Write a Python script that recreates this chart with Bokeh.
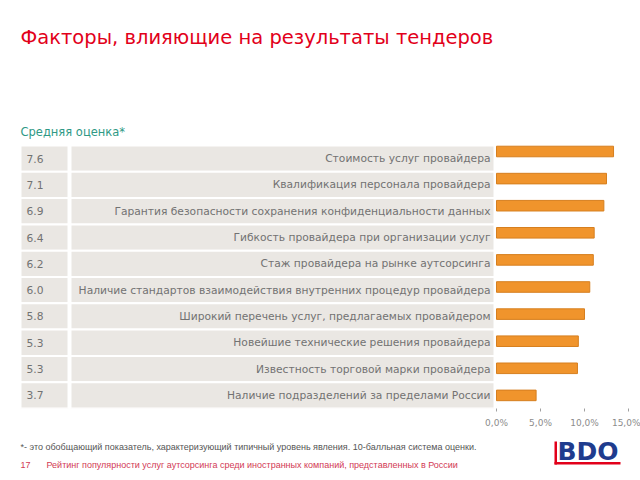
from bokeh.plotting import figure
from bokeh.layouts import column
from bokeh.models import Range1d, LinearAxis, FixedTicker, ColumnDataSource
from bokeh.core.properties import value
from bokeh.embed import file_html
from bokeh.resources import INLINE

# ---------------- data ----------------
scores = ["7.6", "7.1", "6.9", "6.4", "6.2", "6.0", "5.8", "5.3", "5.3", "3.7"]
factors = [
    "Стоимость услуг провайдера",
    "Квалификация персонала провайдера",
    "Гарантия безопасности сохранения конфиденциальности данных",
    "Гибкость провайдера при организации услуг",
    "Стаж провайдера на рынке аутсорсинга",
    "Наличие стандартов взаимодействия внутренних процедур провайдера",
    "Широкий перечень услуг, предлагаемых провайдером",
    "Новейшие технические решения провайдера",
    "Известность торговой марки провайдера",
    "Наличие подразделений за пределами России",
]
shares = [13.3, 12.5, 12.2, 11.1, 11.0, 10.6, 10.0, 9.3, 9.2, 4.5]
ticks = [0, 5, 10, 15]
tick_labels = ["0,0%", "5,0%", "10,0%", "15,0%"]

title_text = "Факторы, влияющие на результаты тендеров"
subtitle_text = "Средняя оценка*"
note_text = ("*- это обобщающий показатель, характеризующий типичный уровень явления. "
             "10-балльная система оценки.")
page_no = "17"
footer_text = ("Рейтинг популярности услуг аутсорсинга среди иностранных компаний, "
               "представленных в России")

# ---------------- layout constants (pixels) ----------------
W = 640
H_TOP = 432          # upper figure height
FRAME_H = 408        # upper frame height (axis goes below)
H_BOT = 48           # lower figure height
N = len(factors)

TABLE_TOP = 145.0
ROW_H = 26.3
COL1 = (20, 68)
COL2 = (70, 494)

PX_PER_PCT = 8.8
ZERO_X = 496.0
BAR_FIRST = 151.0    # page y of first bar centre
BAR_STEP = 27.1
BAR_H = 0.39

FONT = "DejaVu Sans"
GRAY_BG = "#EAE7E3"
TXT = "#727272"

# ---------------- upper figure ----------------
p = figure(width=W, height=H_TOP, output_backend="svg", toolbar_location=None,
           x_range=Range1d(0, W), y_range=Range1d(FRAME_H, 0),
           min_border_left=0, min_border_right=0, min_border_top=0,
           min_border_bottom=H_TOP - FRAME_H,
           x_axis_location=None, y_axis_location=None,
           outline_line_color=None, background_fill_color="white",
           border_fill_color="white")
p.grid.visible = False

p.extra_x_ranges = {"pct": Range1d(-ZERO_X / PX_PER_PCT, (W - ZERO_X) / PX_PER_PCT)}
p.extra_y_ranges = {"bars": Range1d(-(FRAME_H - (BAR_FIRST + BAR_STEP * (N - 1))) / BAR_STEP,
                                    (N - 1) + BAR_FIRST / BAR_STEP)}

# title & subtitle
p.text(x=[20], y=[36.5], text=[title_text], text_font=value(FONT),
       text_font_size="19.5px", text_color="#E2001A", text_baseline="middle")
p.text(x=[20], y=[131], text=[subtitle_text], text_font=value(FONT),
       text_font_size="11.5px", text_color="#2F9985", text_baseline="middle")

# table
rows = list(range(N))
tsrc = ColumnDataSource(dict(
    top=[TABLE_TOP + ROW_H * i for i in rows],
    bottom=[TABLE_TOP + ROW_H * (i + 1) for i in rows],
    ymid=[TABLE_TOP + ROW_H * (i + 0.5) for i in rows],
    score=scores,
    factor=factors,
))
p.quad(left=COL1[0], right=COL1[1], top="top", bottom="bottom", source=tsrc,
       fill_color=GRAY_BG, line_color="white", line_width=2)
p.quad(left=COL2[0], right=COL2[1], top="top", bottom="bottom", source=tsrc,
       fill_color=GRAY_BG, line_color="white", line_width=2)
p.text(x=COL1[0] + 6, y="ymid", text="score", source=tsrc,
       text_font=value(FONT), text_font_size="10.7px", text_color=TXT,
       text_align="left", text_baseline="middle")
p.text(x=COL2[1] - 4, y="ymid", text="factor", source=tsrc,
       text_font=value(FONT), text_font_size="10.7px", text_color=TXT,
       text_align="right", text_baseline="middle")

# bars
bsrc = ColumnDataSource(dict(y=[N - 1 - i for i in rows], share=shares))
p.hbar(y="y", left=0, right="share", height=BAR_H, source=bsrc,
       x_range_name="pct", y_range_name="bars",
       fill_color="#F0942C", line_color="#D67F1F", line_width=1)

axis = LinearAxis(x_range_name="pct", ticker=FixedTicker(ticks=ticks),
                  major_label_overrides={t: l for t, l in zip(ticks, tick_labels)},
                  axis_line_color=None, major_tick_line_color="#A0A0A0",
                  major_tick_in=0, major_tick_out=3, minor_tick_line_color=None,
                  major_label_text_font=FONT, major_label_text_font_size="9px",
                  major_label_text_color="#8C8C8C", major_label_standoff=6)
p.add_layout(axis, "below")

# ---------------- lower figure (footnotes + logo) ----------------
q = figure(width=W, height=H_BOT, output_backend="svg", toolbar_location=None,
           x_range=Range1d(0, W), y_range=Range1d(H_TOP + H_BOT, H_TOP),
           min_border_left=0, min_border_right=0, min_border_top=0,
           min_border_bottom=0, x_axis_location=None, y_axis_location=None,
           outline_line_color=None, background_fill_color="white",
           border_fill_color="white")
q.grid.visible = False

q.text(x=[20], y=[446], text=[note_text], text_font=value("Liberation Sans"),
       text_font_size="9px", text_color="#555555", text_baseline="middle")
q.text(x=[20, 46], y=[464, 464], text=[page_no, footer_text],
       text_font=value("Liberation Sans"), text_font_size="9px",
       text_color="#D23A55", text_baseline="middle")

# BDO logo
q.text(x=[557], y=[451], text=["BDO"], text_font=value(FONT),
       text_font_size="25px", text_font_style="bold", text_color="#1F3C8E",
       text_baseline="middle")
q.quad(left=[554, 554], right=[556.5, 620], top=[441, 461.5], bottom=[464, 464],
       fill_color="#E2001A", line_color=None)

layout = column(p, q, spacing=0)
open("out.html", "w").write(file_html(layout, INLINE))
